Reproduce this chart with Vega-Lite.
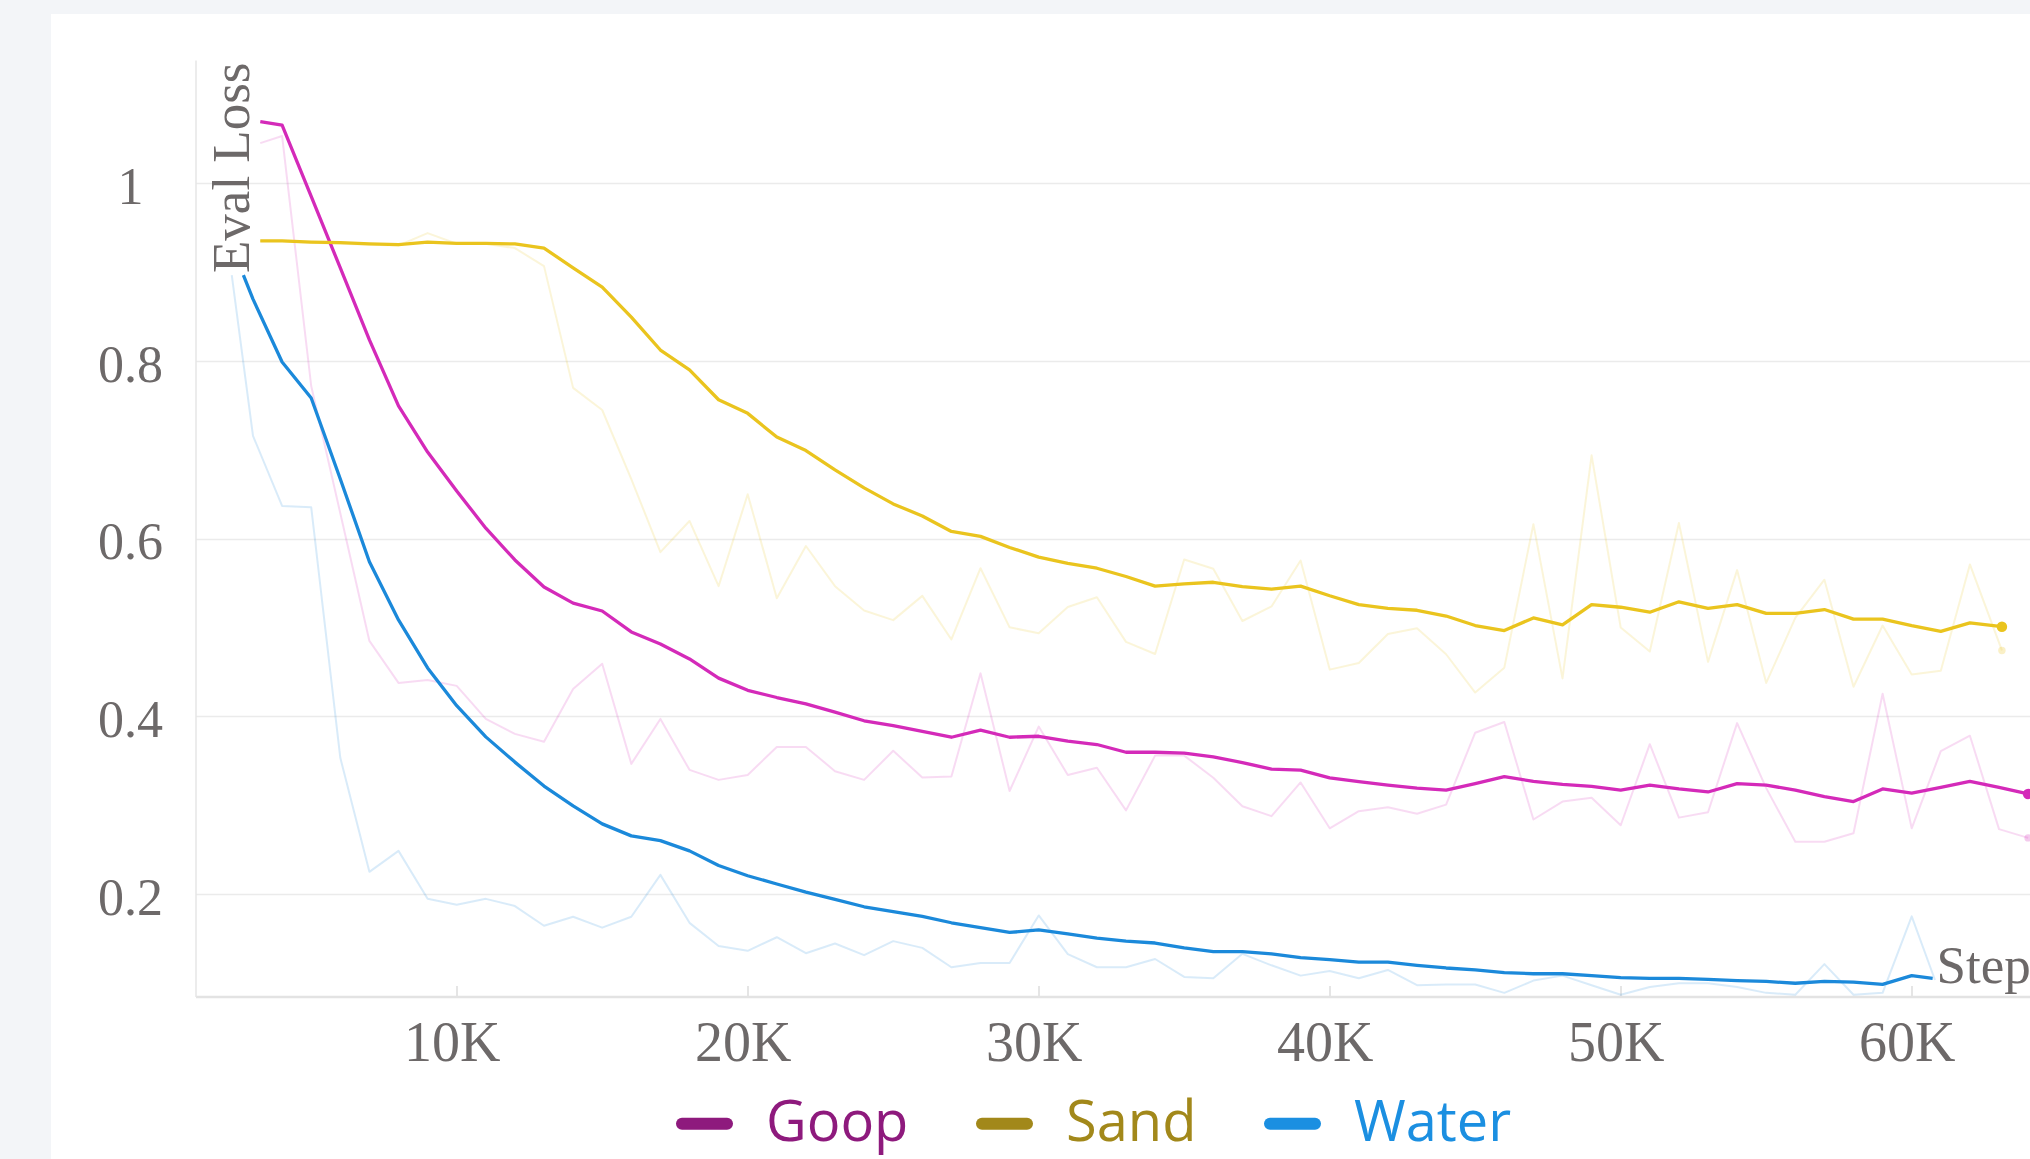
{
  "$schema": "https://vega.github.io/schema/vega-lite/v6.json",
  "width": 1834.5,
  "height": 936.5,
  "autosize": {"type": "none"},
  "padding": {"left": 195.5, "top": 60, "right": 0, "bottom": 162.5},
  "background": "white",
  "config": {"view": {"stroke": null}},
  "datasets": {
    "runs": [
      {"run":"Goop","kind":"smoothed","step":3250,"loss":1.0695},
      {"run":"Goop","kind":"smoothed","step":4000,"loss":1.0655},
      {"run":"Goop","kind":"smoothed","step":5000,"loss":0.9852},
      {"run":"Goop","kind":"smoothed","step":6000,"loss":0.9048},
      {"run":"Goop","kind":"smoothed","step":7000,"loss":0.8238},
      {"run":"Goop","kind":"smoothed","step":8000,"loss":0.7496},
      {"run":"Goop","kind":"smoothed","step":9000,"loss":0.6976},
      {"run":"Goop","kind":"smoothed","step":10000,"loss":0.6537},
      {"run":"Goop","kind":"smoothed","step":11000,"loss":0.6119},
      {"run":"Goop","kind":"smoothed","step":12000,"loss":0.5761},
      {"run":"Goop","kind":"smoothed","step":13000,"loss":0.5457},
      {"run":"Goop","kind":"smoothed","step":14000,"loss":0.5275},
      {"run":"Goop","kind":"smoothed","step":15000,"loss":0.5187},
      {"run":"Goop","kind":"smoothed","step":16000,"loss":0.4951},
      {"run":"Goop","kind":"smoothed","step":17000,"loss":0.4816},
      {"run":"Goop","kind":"smoothed","step":18000,"loss":0.4647},
      {"run":"Goop","kind":"smoothed","step":19000,"loss":0.4431},
      {"run":"Goop","kind":"smoothed","step":20000,"loss":0.4294},
      {"run":"Goop","kind":"smoothed","step":21000,"loss":0.4213},
      {"run":"Goop","kind":"smoothed","step":22000,"loss":0.4142},
      {"run":"Goop","kind":"smoothed","step":23000,"loss":0.4049},
      {"run":"Goop","kind":"smoothed","step":24000,"loss":0.3951},
      {"run":"Goop","kind":"smoothed","step":25000,"loss":0.3896},
      {"run":"Goop","kind":"smoothed","step":26000,"loss":0.3831},
      {"run":"Goop","kind":"smoothed","step":27000,"loss":0.3766},
      {"run":"Goop","kind":"smoothed","step":28000,"loss":0.3847},
      {"run":"Goop","kind":"smoothed","step":29000,"loss":0.3766},
      {"run":"Goop","kind":"smoothed","step":30000,"loss":0.3777},
      {"run":"Goop","kind":"smoothed","step":31000,"loss":0.3722},
      {"run":"Goop","kind":"smoothed","step":32000,"loss":0.3684},
      {"run":"Goop","kind":"smoothed","step":33000,"loss":0.3597},
      {"run":"Goop","kind":"smoothed","step":34000,"loss":0.3597},
      {"run":"Goop","kind":"smoothed","step":35000,"loss":0.3586},
      {"run":"Goop","kind":"smoothed","step":36000,"loss":0.3546},
      {"run":"Goop","kind":"smoothed","step":37000,"loss":0.3481},
      {"run":"Goop","kind":"smoothed","step":38000,"loss":0.3408},
      {"run":"Goop","kind":"smoothed","step":39000,"loss":0.3395},
      {"run":"Goop","kind":"smoothed","step":40000,"loss":0.3309},
      {"run":"Goop","kind":"smoothed","step":41000,"loss":0.3266},
      {"run":"Goop","kind":"smoothed","step":42000,"loss":0.3227},
      {"run":"Goop","kind":"smoothed","step":43000,"loss":0.3193},
      {"run":"Goop","kind":"smoothed","step":44000,"loss":0.3171},
      {"run":"Goop","kind":"smoothed","step":45000,"loss":0.3244},
      {"run":"Goop","kind":"smoothed","step":46000,"loss":0.3322},
      {"run":"Goop","kind":"smoothed","step":47000,"loss":0.3270},
      {"run":"Goop","kind":"smoothed","step":48000,"loss":0.3236},
      {"run":"Goop","kind":"smoothed","step":49000,"loss":0.3214},
      {"run":"Goop","kind":"smoothed","step":50000,"loss":0.3171},
      {"run":"Goop","kind":"smoothed","step":51000,"loss":0.3227},
      {"run":"Goop","kind":"smoothed","step":52000,"loss":0.3184},
      {"run":"Goop","kind":"smoothed","step":53000,"loss":0.3150},
      {"run":"Goop","kind":"smoothed","step":54000,"loss":0.3244},
      {"run":"Goop","kind":"smoothed","step":55000,"loss":0.3227},
      {"run":"Goop","kind":"smoothed","step":56000,"loss":0.3171},
      {"run":"Goop","kind":"smoothed","step":57000,"loss":0.3098},
      {"run":"Goop","kind":"smoothed","step":58000,"loss":0.3042},
      {"run":"Goop","kind":"smoothed","step":59000,"loss":0.3184},
      {"run":"Goop","kind":"smoothed","step":60000,"loss":0.3137},
      {"run":"Goop","kind":"smoothed","step":61000,"loss":0.3201},
      {"run":"Goop","kind":"smoothed","step":62000,"loss":0.3270},
      {"run":"Goop","kind":"smoothed","step":63000,"loss":0.3201},
      {"run":"Goop","kind":"smoothed","step":64000,"loss":0.3128},

      {"run":"Goop","kind":"raw","step":3250,"loss":1.0452},
      {"run":"Goop","kind":"raw","step":4000,"loss":1.0533},
      {"run":"Goop","kind":"raw","step":5000,"loss":0.7719},
      {"run":"Goop","kind":"raw","step":6000,"loss":0.6287},
      {"run":"Goop","kind":"raw","step":7000,"loss":0.4850},
      {"run":"Goop","kind":"raw","step":8000,"loss":0.4377},
      {"run":"Goop","kind":"raw","step":9000,"loss":0.4411},
      {"run":"Goop","kind":"raw","step":10000,"loss":0.4344},
      {"run":"Goop","kind":"raw","step":11000,"loss":0.3972},
      {"run":"Goop","kind":"raw","step":12000,"loss":0.3804},
      {"run":"Goop","kind":"raw","step":13000,"loss":0.3716},
      {"run":"Goop","kind":"raw","step":14000,"loss":0.4310},
      {"run":"Goop","kind":"raw","step":15000,"loss":0.4593},
      {"run":"Goop","kind":"raw","step":16000,"loss":0.3466},
      {"run":"Goop","kind":"raw","step":17000,"loss":0.3972},
      {"run":"Goop","kind":"raw","step":18000,"loss":0.3399},
      {"run":"Goop","kind":"raw","step":19000,"loss":0.3286},
      {"run":"Goop","kind":"raw","step":20000,"loss":0.3341},
      {"run":"Goop","kind":"raw","step":21000,"loss":0.3657},
      {"run":"Goop","kind":"raw","step":22000,"loss":0.3657},
      {"run":"Goop","kind":"raw","step":23000,"loss":0.3384},
      {"run":"Goop","kind":"raw","step":24000,"loss":0.3286},
      {"run":"Goop","kind":"raw","step":25000,"loss":0.3613},
      {"run":"Goop","kind":"raw","step":26000,"loss":0.3313},
      {"run":"Goop","kind":"raw","step":27000,"loss":0.3324},
      {"run":"Goop","kind":"raw","step":28000,"loss":0.4485},
      {"run":"Goop","kind":"raw","step":29000,"loss":0.3161},
      {"run":"Goop","kind":"raw","step":30000,"loss":0.3886},
      {"run":"Goop","kind":"raw","step":31000,"loss":0.3341},
      {"run":"Goop","kind":"raw","step":32000,"loss":0.3422},
      {"run":"Goop","kind":"raw","step":33000,"loss":0.2943},
      {"run":"Goop","kind":"raw","step":34000,"loss":0.3559},
      {"run":"Goop","kind":"raw","step":35000,"loss":0.3559},
      {"run":"Goop","kind":"raw","step":36000,"loss":0.3310},
      {"run":"Goop","kind":"raw","step":37000,"loss":0.2990},
      {"run":"Goop","kind":"raw","step":38000,"loss":0.2878},
      {"run":"Goop","kind":"raw","step":39000,"loss":0.3257},
      {"run":"Goop","kind":"raw","step":40000,"loss":0.2741},
      {"run":"Goop","kind":"raw","step":41000,"loss":0.2934},
      {"run":"Goop","kind":"raw","step":42000,"loss":0.2977},
      {"run":"Goop","kind":"raw","step":43000,"loss":0.2904},
      {"run":"Goop","kind":"raw","step":44000,"loss":0.3008},
      {"run":"Goop","kind":"raw","step":45000,"loss":0.3817},
      {"run":"Goop","kind":"raw","step":46000,"loss":0.3938},
      {"run":"Goop","kind":"raw","step":47000,"loss":0.2840},
      {"run":"Goop","kind":"raw","step":48000,"loss":0.3042},
      {"run":"Goop","kind":"raw","step":49000,"loss":0.3085},
      {"run":"Goop","kind":"raw","step":50000,"loss":0.2775},
      {"run":"Goop","kind":"raw","step":51000,"loss":0.3688},
      {"run":"Goop","kind":"raw","step":52000,"loss":0.2861},
      {"run":"Goop","kind":"raw","step":53000,"loss":0.2921},
      {"run":"Goop","kind":"raw","step":54000,"loss":0.3925},
      {"run":"Goop","kind":"raw","step":55000,"loss":0.3193},
      {"run":"Goop","kind":"raw","step":56000,"loss":0.2590},
      {"run":"Goop","kind":"raw","step":57000,"loss":0.2590},
      {"run":"Goop","kind":"raw","step":58000,"loss":0.2685},
      {"run":"Goop","kind":"raw","step":59000,"loss":0.4256},
      {"run":"Goop","kind":"raw","step":60000,"loss":0.2741},
      {"run":"Goop","kind":"raw","step":61000,"loss":0.3610},
      {"run":"Goop","kind":"raw","step":62000,"loss":0.3783},
      {"run":"Goop","kind":"raw","step":63000,"loss":0.2732},
      {"run":"Goop","kind":"raw","step":64000,"loss":0.2633},

      {"run":"Sand","kind":"smoothed","step":3250,"loss":0.9352},
      {"run":"Sand","kind":"smoothed","step":4000,"loss":0.9352},
      {"run":"Sand","kind":"smoothed","step":5000,"loss":0.9339},
      {"run":"Sand","kind":"smoothed","step":6000,"loss":0.9332},
      {"run":"Sand","kind":"smoothed","step":7000,"loss":0.9318},
      {"run":"Sand","kind":"smoothed","step":8000,"loss":0.9311},
      {"run":"Sand","kind":"smoothed","step":9000,"loss":0.9339},
      {"run":"Sand","kind":"smoothed","step":10000,"loss":0.9325},
      {"run":"Sand","kind":"smoothed","step":11000,"loss":0.9325},
      {"run":"Sand","kind":"smoothed","step":12000,"loss":0.9318},
      {"run":"Sand","kind":"smoothed","step":13000,"loss":0.9271},
      {"run":"Sand","kind":"smoothed","step":14000,"loss":0.9048},
      {"run":"Sand","kind":"smoothed","step":15000,"loss":0.8832},
      {"run":"Sand","kind":"smoothed","step":16000,"loss":0.8495},
      {"run":"Sand","kind":"smoothed","step":17000,"loss":0.8124},
      {"run":"Sand","kind":"smoothed","step":18000,"loss":0.7901},
      {"run":"Sand","kind":"smoothed","step":19000,"loss":0.7564},
      {"run":"Sand","kind":"smoothed","step":20000,"loss":0.7411},
      {"run":"Sand","kind":"smoothed","step":21000,"loss":0.7144},
      {"run":"Sand","kind":"smoothed","step":22000,"loss":0.6992},
      {"run":"Sand","kind":"smoothed","step":23000,"loss":0.6774},
      {"run":"Sand","kind":"smoothed","step":24000,"loss":0.6572},
      {"run":"Sand","kind":"smoothed","step":25000,"loss":0.6392},
      {"run":"Sand","kind":"smoothed","step":26000,"loss":0.6256},
      {"run":"Sand","kind":"smoothed","step":27000,"loss":0.6082},
      {"run":"Sand","kind":"smoothed","step":28000,"loss":0.6027},
      {"run":"Sand","kind":"smoothed","step":29000,"loss":0.5902},
      {"run":"Sand","kind":"smoothed","step":30000,"loss":0.5793},
      {"run":"Sand","kind":"smoothed","step":31000,"loss":0.5722},
      {"run":"Sand","kind":"smoothed","step":32000,"loss":0.5668},
      {"run":"Sand","kind":"smoothed","step":33000,"loss":0.5575},
      {"run":"Sand","kind":"smoothed","step":34000,"loss":0.5466},
      {"run":"Sand","kind":"smoothed","step":35000,"loss":0.5493},
      {"run":"Sand","kind":"smoothed","step":36000,"loss":0.5510},
      {"run":"Sand","kind":"smoothed","step":37000,"loss":0.5462},
      {"run":"Sand","kind":"smoothed","step":38000,"loss":0.5432},
      {"run":"Sand","kind":"smoothed","step":39000,"loss":0.5466},
      {"run":"Sand","kind":"smoothed","step":40000,"loss":0.5358},
      {"run":"Sand","kind":"smoothed","step":41000,"loss":0.5259},
      {"run":"Sand","kind":"smoothed","step":42000,"loss":0.5216},
      {"run":"Sand","kind":"smoothed","step":43000,"loss":0.5195},
      {"run":"Sand","kind":"smoothed","step":44000,"loss":0.5130},
      {"run":"Sand","kind":"smoothed","step":45000,"loss":0.5023},
      {"run":"Sand","kind":"smoothed","step":46000,"loss":0.4967},
      {"run":"Sand","kind":"smoothed","step":47000,"loss":0.5109},
      {"run":"Sand","kind":"smoothed","step":48000,"loss":0.5031},
      {"run":"Sand","kind":"smoothed","step":49000,"loss":0.5259},
      {"run":"Sand","kind":"smoothed","step":50000,"loss":0.5229},
      {"run":"Sand","kind":"smoothed","step":51000,"loss":0.5173},
      {"run":"Sand","kind":"smoothed","step":52000,"loss":0.5290},
      {"run":"Sand","kind":"smoothed","step":53000,"loss":0.5216},
      {"run":"Sand","kind":"smoothed","step":54000,"loss":0.5259},
      {"run":"Sand","kind":"smoothed","step":55000,"loss":0.5160},
      {"run":"Sand","kind":"smoothed","step":56000,"loss":0.5160},
      {"run":"Sand","kind":"smoothed","step":57000,"loss":0.5203},
      {"run":"Sand","kind":"smoothed","step":58000,"loss":0.5096},
      {"run":"Sand","kind":"smoothed","step":59000,"loss":0.5096},
      {"run":"Sand","kind":"smoothed","step":60000,"loss":0.5023},
      {"run":"Sand","kind":"smoothed","step":61000,"loss":0.4958},
      {"run":"Sand","kind":"smoothed","step":62000,"loss":0.5053},
      {"run":"Sand","kind":"smoothed","step":63100,"loss":0.5010},

      {"run":"Sand","kind":"raw","step":3250,"loss":0.9350},
      {"run":"Sand","kind":"raw","step":4000,"loss":0.9350},
      {"run":"Sand","kind":"raw","step":5000,"loss":0.9330},
      {"run":"Sand","kind":"raw","step":6000,"loss":0.9320},
      {"run":"Sand","kind":"raw","step":7000,"loss":0.9310},
      {"run":"Sand","kind":"raw","step":8000,"loss":0.9300},
      {"run":"Sand","kind":"raw","step":9000,"loss":0.9440},
      {"run":"Sand","kind":"raw","step":10000,"loss":0.9320},
      {"run":"Sand","kind":"raw","step":11000,"loss":0.9320},
      {"run":"Sand","kind":"raw","step":12000,"loss":0.9271},
      {"run":"Sand","kind":"raw","step":13000,"loss":0.9068},
      {"run":"Sand","kind":"raw","step":14000,"loss":0.7698},
      {"run":"Sand","kind":"raw","step":15000,"loss":0.7449},
      {"run":"Sand","kind":"raw","step":16000,"loss":0.6672},
      {"run":"Sand","kind":"raw","step":17000,"loss":0.5849},
      {"run":"Sand","kind":"raw","step":18000,"loss":0.6200},
      {"run":"Sand","kind":"raw","step":19000,"loss":0.5466},
      {"run":"Sand","kind":"raw","step":20000,"loss":0.6501},
      {"run":"Sand","kind":"raw","step":21000,"loss":0.5330},
      {"run":"Sand","kind":"raw","step":22000,"loss":0.5918},
      {"run":"Sand","kind":"raw","step":23000,"loss":0.5466},
      {"run":"Sand","kind":"raw","step":24000,"loss":0.5193},
      {"run":"Sand","kind":"raw","step":25000,"loss":0.5084},
      {"run":"Sand","kind":"raw","step":26000,"loss":0.5357},
      {"run":"Sand","kind":"raw","step":27000,"loss":0.4866},
      {"run":"Sand","kind":"raw","step":28000,"loss":0.5668},
      {"run":"Sand","kind":"raw","step":29000,"loss":0.5003},
      {"run":"Sand","kind":"raw","step":30000,"loss":0.4937},
      {"run":"Sand","kind":"raw","step":31000,"loss":0.5232},
      {"run":"Sand","kind":"raw","step":32000,"loss":0.5341},
      {"run":"Sand","kind":"raw","step":33000,"loss":0.4839},
      {"run":"Sand","kind":"raw","step":34000,"loss":0.4703},
      {"run":"Sand","kind":"raw","step":35000,"loss":0.5766},
      {"run":"Sand","kind":"raw","step":36000,"loss":0.5662},
      {"run":"Sand","kind":"raw","step":37000,"loss":0.5074},
      {"run":"Sand","kind":"raw","step":38000,"loss":0.5238},
      {"run":"Sand","kind":"raw","step":39000,"loss":0.5755},
      {"run":"Sand","kind":"raw","step":40000,"loss":0.4527},
      {"run":"Sand","kind":"raw","step":41000,"loss":0.4601},
      {"run":"Sand","kind":"raw","step":42000,"loss":0.4928},
      {"run":"Sand","kind":"raw","step":43000,"loss":0.4992},
      {"run":"Sand","kind":"raw","step":44000,"loss":0.4700},
      {"run":"Sand","kind":"raw","step":45000,"loss":0.4269},
      {"run":"Sand","kind":"raw","step":46000,"loss":0.4549},
      {"run":"Sand","kind":"raw","step":47000,"loss":0.6164},
      {"run":"Sand","kind":"raw","step":48000,"loss":0.4428},
      {"run":"Sand","kind":"raw","step":49000,"loss":0.6939},
      {"run":"Sand","kind":"raw","step":50000,"loss":0.5001},
      {"run":"Sand","kind":"raw","step":51000,"loss":0.4730},
      {"run":"Sand","kind":"raw","step":52000,"loss":0.6177},
      {"run":"Sand","kind":"raw","step":53000,"loss":0.4614},
      {"run":"Sand","kind":"raw","step":54000,"loss":0.5647},
      {"run":"Sand","kind":"raw","step":55000,"loss":0.4377},
      {"run":"Sand","kind":"raw","step":56000,"loss":0.5109},
      {"run":"Sand","kind":"raw","step":57000,"loss":0.5539},
      {"run":"Sand","kind":"raw","step":58000,"loss":0.4334},
      {"run":"Sand","kind":"raw","step":59000,"loss":0.5023},
      {"run":"Sand","kind":"raw","step":60000,"loss":0.4471},
      {"run":"Sand","kind":"raw","step":61000,"loss":0.4515},
      {"run":"Sand","kind":"raw","step":62000,"loss":0.5711},
      {"run":"Sand","kind":"raw","step":63100,"loss":0.4743},

      {"run":"Water","kind":"smoothed","step":2670,"loss":0.8967},
      {"run":"Water","kind":"smoothed","step":3000,"loss":0.8697},
      {"run":"Water","kind":"smoothed","step":4000,"loss":0.7989},
      {"run":"Water","kind":"smoothed","step":5000,"loss":0.7584},
      {"run":"Water","kind":"smoothed","step":6000,"loss":0.6672},
      {"run":"Water","kind":"smoothed","step":7000,"loss":0.5741},
      {"run":"Water","kind":"smoothed","step":8000,"loss":0.5086},
      {"run":"Water","kind":"smoothed","step":9000,"loss":0.4546},
      {"run":"Water","kind":"smoothed","step":10000,"loss":0.4121},
      {"run":"Water","kind":"smoothed","step":11000,"loss":0.3770},
      {"run":"Water","kind":"smoothed","step":12000,"loss":0.3486},
      {"run":"Water","kind":"smoothed","step":13000,"loss":0.3216},
      {"run":"Water","kind":"smoothed","step":14000,"loss":0.2993},
      {"run":"Water","kind":"smoothed","step":15000,"loss":0.2791},
      {"run":"Water","kind":"smoothed","step":16000,"loss":0.2656},
      {"run":"Water","kind":"smoothed","step":17000,"loss":0.2602},
      {"run":"Water","kind":"smoothed","step":18000,"loss":0.2487},
      {"run":"Water","kind":"smoothed","step":19000,"loss":0.2322},
      {"run":"Water","kind":"smoothed","step":20000,"loss":0.2207},
      {"run":"Water","kind":"smoothed","step":21000,"loss":0.2114},
      {"run":"Water","kind":"smoothed","step":22000,"loss":0.2022},
      {"run":"Water","kind":"smoothed","step":23000,"loss":0.1940},
      {"run":"Water","kind":"smoothed","step":24000,"loss":0.1858},
      {"run":"Water","kind":"smoothed","step":25000,"loss":0.1804},
      {"run":"Water","kind":"smoothed","step":26000,"loss":0.1749},
      {"run":"Water","kind":"smoothed","step":27000,"loss":0.1678},
      {"run":"Water","kind":"smoothed","step":28000,"loss":0.1624},
      {"run":"Water","kind":"smoothed","step":29000,"loss":0.1569},
      {"run":"Water","kind":"smoothed","step":30000,"loss":0.1597},
      {"run":"Water","kind":"smoothed","step":31000,"loss":0.1553},
      {"run":"Water","kind":"smoothed","step":32000,"loss":0.1504},
      {"run":"Water","kind":"smoothed","step":33000,"loss":0.1471},
      {"run":"Water","kind":"smoothed","step":34000,"loss":0.1450},
      {"run":"Water","kind":"smoothed","step":35000,"loss":0.1395},
      {"run":"Water","kind":"smoothed","step":36000,"loss":0.1353},
      {"run":"Water","kind":"smoothed","step":37000,"loss":0.1354},
      {"run":"Water","kind":"smoothed","step":38000,"loss":0.1328},
      {"run":"Water","kind":"smoothed","step":39000,"loss":0.1285},
      {"run":"Water","kind":"smoothed","step":40000,"loss":0.1264},
      {"run":"Water","kind":"smoothed","step":41000,"loss":0.1234},
      {"run":"Water","kind":"smoothed","step":42000,"loss":0.1234},
      {"run":"Water","kind":"smoothed","step":43000,"loss":0.1199},
      {"run":"Water","kind":"smoothed","step":44000,"loss":0.1169},
      {"run":"Water","kind":"smoothed","step":45000,"loss":0.1147},
      {"run":"Water","kind":"smoothed","step":46000,"loss":0.1117},
      {"run":"Water","kind":"smoothed","step":47000,"loss":0.1104},
      {"run":"Water","kind":"smoothed","step":48000,"loss":0.1104},
      {"run":"Water","kind":"smoothed","step":49000,"loss":0.1083},
      {"run":"Water","kind":"smoothed","step":50000,"loss":0.1061},
      {"run":"Water","kind":"smoothed","step":51000,"loss":0.1053},
      {"run":"Water","kind":"smoothed","step":52000,"loss":0.1053},
      {"run":"Water","kind":"smoothed","step":53000,"loss":0.1040},
      {"run":"Water","kind":"smoothed","step":54000,"loss":0.1027},
      {"run":"Water","kind":"smoothed","step":55000,"loss":0.1018},
      {"run":"Water","kind":"smoothed","step":56000,"loss":0.0997},
      {"run":"Water","kind":"smoothed","step":57000,"loss":0.1018},
      {"run":"Water","kind":"smoothed","step":58000,"loss":0.1010},
      {"run":"Water","kind":"smoothed","step":59000,"loss":0.0984},
      {"run":"Water","kind":"smoothed","step":60000,"loss":0.1083},
      {"run":"Water","kind":"smoothed","step":60720,"loss":0.1052},

      {"run":"Water","kind":"raw","step":2270,"loss":0.8967},
      {"run":"Water","kind":"raw","step":3000,"loss":0.7158},
      {"run":"Water","kind":"raw","step":4000,"loss":0.6369},
      {"run":"Water","kind":"raw","step":5000,"loss":0.6355},
      {"run":"Water","kind":"raw","step":6000,"loss":0.3534},
      {"run":"Water","kind":"raw","step":7000,"loss":0.2251},
      {"run":"Water","kind":"raw","step":8000,"loss":0.2487},
      {"run":"Water","kind":"raw","step":9000,"loss":0.1947},
      {"run":"Water","kind":"raw","step":10000,"loss":0.1880},
      {"run":"Water","kind":"raw","step":11000,"loss":0.1947},
      {"run":"Water","kind":"raw","step":12000,"loss":0.1866},
      {"run":"Water","kind":"raw","step":13000,"loss":0.1644},
      {"run":"Water","kind":"raw","step":14000,"loss":0.1745},
      {"run":"Water","kind":"raw","step":15000,"loss":0.1623},
      {"run":"Water","kind":"raw","step":16000,"loss":0.1745},
      {"run":"Water","kind":"raw","step":17000,"loss":0.2217},
      {"run":"Water","kind":"raw","step":18000,"loss":0.1677},
      {"run":"Water","kind":"raw","step":19000,"loss":0.1417},
      {"run":"Water","kind":"raw","step":20000,"loss":0.1362},
      {"run":"Water","kind":"raw","step":21000,"loss":0.1515},
      {"run":"Water","kind":"raw","step":22000,"loss":0.1335},
      {"run":"Water","kind":"raw","step":23000,"loss":0.1444},
      {"run":"Water","kind":"raw","step":24000,"loss":0.1313},
      {"run":"Water","kind":"raw","step":25000,"loss":0.1471},
      {"run":"Water","kind":"raw","step":26000,"loss":0.1395},
      {"run":"Water","kind":"raw","step":27000,"loss":0.1177},
      {"run":"Water","kind":"raw","step":28000,"loss":0.1226},
      {"run":"Water","kind":"raw","step":29000,"loss":0.1226},
      {"run":"Water","kind":"raw","step":30000,"loss":0.1760},
      {"run":"Water","kind":"raw","step":31000,"loss":0.1324},
      {"run":"Water","kind":"raw","step":32000,"loss":0.1177},
      {"run":"Water","kind":"raw","step":33000,"loss":0.1177},
      {"run":"Water","kind":"raw","step":34000,"loss":0.1270},
      {"run":"Water","kind":"raw","step":35000,"loss":0.1068},
      {"run":"Water","kind":"raw","step":36000,"loss":0.1054},
      {"run":"Water","kind":"raw","step":37000,"loss":0.1328},
      {"run":"Water","kind":"raw","step":38000,"loss":0.1199},
      {"run":"Water","kind":"raw","step":39000,"loss":0.1083},
      {"run":"Water","kind":"raw","step":40000,"loss":0.1134},
      {"run":"Water","kind":"raw","step":41000,"loss":0.1053},
      {"run":"Water","kind":"raw","step":42000,"loss":0.1147},
      {"run":"Water","kind":"raw","step":43000,"loss":0.0975},
      {"run":"Water","kind":"raw","step":44000,"loss":0.0984},
      {"run":"Water","kind":"raw","step":45000,"loss":0.0984},
      {"run":"Water","kind":"raw","step":46000,"loss":0.0889},
      {"run":"Water","kind":"raw","step":47000,"loss":0.1027},
      {"run":"Water","kind":"raw","step":48000,"loss":0.1083},
      {"run":"Water","kind":"raw","step":49000,"loss":0.0975},
      {"run":"Water","kind":"raw","step":50000,"loss":0.0868},
      {"run":"Water","kind":"raw","step":51000,"loss":0.0954},
      {"run":"Water","kind":"raw","step":52000,"loss":0.0997},
      {"run":"Water","kind":"raw","step":53000,"loss":0.0997},
      {"run":"Water","kind":"raw","step":54000,"loss":0.0954},
      {"run":"Water","kind":"raw","step":55000,"loss":0.0889},
      {"run":"Water","kind":"raw","step":56000,"loss":0.0868},
      {"run":"Water","kind":"raw","step":57000,"loss":0.1212},
      {"run":"Water","kind":"raw","step":58000,"loss":0.0868},
      {"run":"Water","kind":"raw","step":59000,"loss":0.0889},
      {"run":"Water","kind":"raw","step":60000,"loss":0.1750},
      {"run":"Water","kind":"raw","step":60800,"loss":0.1034}
    ]
  },
  "layer": [
    {
      "description": "light page margin to the left of the panel",
      "data": {"values": [{}]},
      "mark": {"type": "rect", "clip": false, "color": "#f3f5f8"},
      "encoding": {
        "x": {"datum": -8000, "type": "quantitative", "scale": {"domain": [1024, 64065], "nice": false, "zero": false}},
        "x2": {"datum": -3942},
        "y": {"datum": 1.3, "type": "quantitative", "scale": {"domain": [0.0848, 1.1388], "nice": false, "zero": false}},
        "y2": {"datum": -0.2}
      }
    },
    {
      "description": "light page margin above the panel",
      "data": {"values": [{}]},
      "mark": {"type": "rect", "clip": false, "color": "#f3f5f8"},
      "encoding": {
        "x": {"datum": -8000, "type": "quantitative", "scale": {"domain": [1024, 64065], "nice": false, "zero": false}},
        "x2": {"datum": 80000},
        "y": {"datum": 1.3, "type": "quantitative", "scale": {"domain": [0.0848, 1.1388], "nice": false, "zero": false}},
        "y2": {"datum": 1.1905}
      }
    },
    {
      "data": {"name": "runs"},
      "encoding": {
        "x": {
          "field": "step", "type": "quantitative",
          "scale": {"domain": [1024, 64065], "nice": false, "zero": false},
          "axis": {
            "values": [10000, 20000, 30000, 40000, 50000, 60000],
            "labelExpr": "datum.value / 1000 + 'K'",
            "grid": false,
            "domainColor": "#e3e3e3", "domainWidth": 2.5,
            "ticks": true, "tickColor": "#dcdcdc", "tickSize": -11, "tickWidth": 1.5,
            "labelFont": "Liberation Serif", "labelFontSize": 56, "labelColor": "#6d6969",
            "labelBaseline": "alphabetic", "labelPadding": 75, "labelOffset": -5,
            "labelFlush": false, "labelOverlap": false,
            "title": "Step",
            "titleFont": "Liberation Serif", "titleFontSize": 53, "titleFontWeight": "normal", "titleColor": "#6d6969",
            "titleX": 1740.5, "titleY": -14, "titleAlign": "left", "titleBaseline": "alphabetic", "titleAngle": 0
          }
        },
        "y": {
          "field": "loss", "type": "quantitative",
          "scale": {"domain": [0.0848, 1.1388], "nice": false, "zero": false},
          "axis": {
            "values": [0.2, 0.4, 0.6, 0.8, 1],
            "format": "~g",
            "grid": true, "gridColor": "#ebebeb", "gridWidth": 1.5,
            "domainColor": "#e6e6e6", "domainWidth": 1.5,
            "ticks": false, "tickSize": 0,
            "labelFont": "Liberation Serif", "labelFontSize": 52, "labelColor": "#6d6969",
            "labelAlign": "center", "labelBaseline": "middle", "labelPadding": 65.5, "labelOffset": 4,
            "labelOverlap": false,
            "title": "Eval Loss",
            "titleFont": "Liberation Serif", "titleFontSize": 53, "titleFontWeight": "normal", "titleColor": "#6d6969",
            "titleX": 52.5, "titleY": 2, "titleAngle": -90, "titleAlign": "right", "titleBaseline": "alphabetic"
          }
        }
      },
      "layer": [
        {
          "description": "raw eval loss, drawn faint",
          "transform": [{"filter": "datum.kind === 'raw'"}],
          "mark": {"type": "line", "strokeWidth": 2, "opacity": 0.17, "strokeJoin": "round"},
          "encoding": {
            "stroke": {"field": "run", "type": "nominal", "legend": null,
              "scale": {"domain": ["Water", "Sand", "Goop"], "range": ["#1b89da", "#eac41e", "#d42ab9"]}}
          }
        },
        {
          "description": "smoothed eval loss",
          "transform": [{"filter": "datum.kind === 'smoothed'"}],
          "mark": {"type": "line", "strokeWidth": 3.3, "strokeJoin": "round"},
          "encoding": {
            "stroke": {"field": "run", "type": "nominal", "legend": null,
              "scale": {"domain": ["Water", "Sand", "Goop"], "range": ["#1b89da", "#eac41e", "#d42ab9"]}}
          }
        },
        {
          "description": "markers on the latest value of each run",
          "transform": [
            {"joinaggregate": [{"op": "max", "field": "step", "as": "last_step"}], "groupby": ["run", "kind"]},
            {"filter": "datum.step === datum.last_step && datum.run !== 'Water'"}
          ],
          "mark": {"type": "point", "filled": true, "strokeWidth": 0},
          "encoding": {
            "fill": {"field": "run", "type": "nominal", "legend": null,
              "scale": {"domain": ["Sand", "Goop", "Water"], "range": ["#eac41e", "#d42ab9", "#1b89da"]}},
            "size": {"condition": {"test": "datum.kind === 'raw'", "value": 55}, "value": 110},
            "opacity": {"condition": {"test": "datum.kind === 'raw'", "value": 0.25}, "value": 1}
          }
        },
        {
          "description": "legend carrier: one point per run, so the line itself draws nothing",
          "transform": [
            {"filter": "datum.kind === 'smoothed'"},
            {"joinaggregate": [{"op": "max", "field": "step", "as": "last_step"}], "groupby": ["run"]},
            {"filter": "datum.step === datum.last_step"}
          ],
          "mark": {"type": "line", "strokeWidth": 12},
          "encoding": {
            "color": {
              "field": "run", "type": "nominal",
              "scale": {"domain": ["Goop", "Sand", "Water"], "range": ["#8e1a7d", "#a2881a", "#1b8fe1"]},
              "legend": {
                "orient": "none", "legendX": 480.5, "legendY": 1035,
                "direction": "horizontal", "title": null, "padding": 0,
                "symbolType": "stroke", "symbolSize": 2025, "symbolStrokeWidth": 12, "symbolOpacity": 1,
                "labelFont": "Open Sans", "labelFontSize": 56, "labelOffset": 33, "labelLimit": 400,
                "labelBaseline": "middle",
                "columnPadding": 49,
                "encode": {
                  "symbols": {"update": {"strokeCap": {"value": "round"}}},
                  "labels": {"update": {"fill": {"scale": "color", "field": "value"}}}
                }
              }
            }
          }
        }
      ]
    }
  ]
}
